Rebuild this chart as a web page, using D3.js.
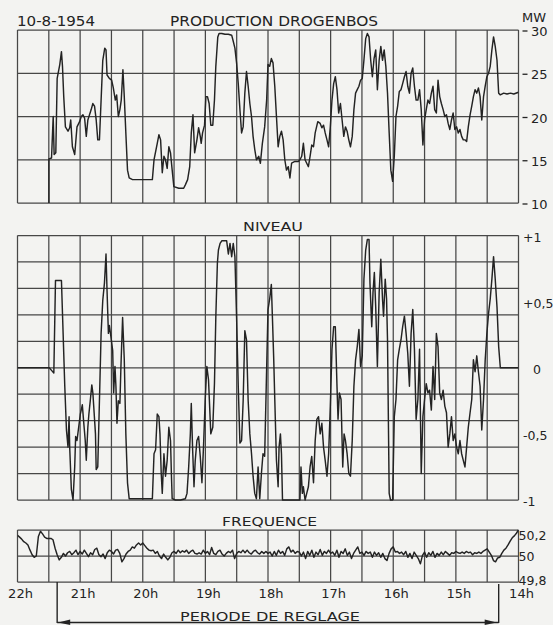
<!DOCTYPE html>
<html><head><meta charset="utf-8">
<script src="https://cdn.jsdelivr.net/npm/d3@7"></script>
<style>html,body{margin:0;padding:0;background:#f3f3f1;}svg{display:block;}</style>
</head><body>
<script>
// ---- DATA (time in minutes from the 22h mark, moving right toward 14h) ----
const hourLabels = ["22h","21h","20h","19h","18h","17h","16h","15h","14h"];
const hourTicks = [0,60,120,180,240,300,360,420,480];
const productionTicks = [30,25,20,15,10];
const niveauTicks = [1,0.5,0,-0.5,-1];
const niveauTickLabels = ["+1","+0,5","0","-0,5","-1"];
const freqTicks = [50.2,50,49.8];
const freqTickLabels = ["50,2","50","49,8"];
const reglagePeriod = [38, 461];

const production = [[30.1,10],[30.1,15.1],[32.6,15.2],[34.2,20],[35.1,15.6],[36.7,15.8],[38,24.4],[40.5,26],[42.1,27.5],[43.1,25.8],[44.3,22.3],[45.9,18.8],[48.4,18.3],[50,18.7],[51,19.6],[52.6,16.5],[54.8,15.6],[57,18.8],[59.5,19.4],[61.1,20],[62.7,20.2],[64.3,19.8],[65.9,17.7],[67.4,19.6],[69,20.2],[70.6,20.8],[72.2,21.5],[73.8,21.2],[75.4,19.6],[76.9,17.3],[78.5,17.3],[80.1,21.9],[81.7,26.5],[83.6,27.9],[84.8,27.7],[85.8,24.8],[88,24.4],[90.2,24.2],[91.8,23.3],[93.7,21.9],[95,22.5],[96.6,20],[98.1,20.8],[99.4,21.9],[101,25.4],[102.3,22.3],[103.8,18.1],[105.4,13.8],[107,12.9],[110.2,12.7],[116.5,12.7],[122.8,12.7],[129.2,12.7],[130.8,15],[133.9,16.9],[135.5,17.9],[137.1,17.3],[138.7,13.5],[140.3,15.4],[141.8,15],[143.4,14],[145,16.5],[146.6,15.8],[148.2,13.8],[149.8,11.9],[154.5,11.7],[159.2,11.7],[160.8,12.1],[163,12.7],[165,14.2],[166.5,18.1],[168.1,20.2],[169.7,15.8],[171.9,17.3],[173.5,18.7],[175.1,17.7],[176,16.9],[177.3,18.1],[179.2,19],[180.5,22.3],[182,22.3],[183.6,21.5],[185.2,19],[187.1,19],[188.7,21.9],[190,25.8],[191.9,29.2],[193.1,29.6],[195.7,29.6],[198.8,29.5],[202,29.5],[205.2,29.4],[206.7,28.7],[208.3,27.9],[209.9,26.2],[211.5,23.8],[213.1,20.8],[214.7,18.1],[216.2,18.8],[217.8,22.7],[219.4,25.2],[221,23.5],[222.6,21.5],[224.2,20],[225.7,17.7],[227.3,16.2],[228.9,15],[231.1,15.4],[232.7,14.6],[234.6,16.9],[236.8,18.8],[238.7,21.9],
[240,26],[241.6,25.8],[243.2,26.7],[244.8,26.2],[246.5,23.5],[248.1,20],[249.7,16.5],[251.3,17.7],[252.9,18.3],[254.5,17.3],[256.1,15],[257.7,13.8],[259.4,14.2],[261,12.9],[262.6,14.6],[265.8,14.8],[269,14.8],[270.6,15],[272.3,15.4],[273.9,16.9],[275.5,15],[277.1,14.6],[278.7,14.2],[280.3,15.4],[281.9,16.7],[283.6,16.5],[285.2,18.1],[287.7,19.4],[290,19.2],[291.6,18.7],[293.2,19],[294.8,18.1],[296.5,17.3],[298.1,16.5],[299.7,18.8],[301.3,21.9],[302.9,23.8],[304.5,24.6],[306.1,23.1],[307.7,20.4],[309.4,21.5],[311,19.6],[312.6,17.7],[314.2,18.8],[315.8,18.3],[317.4,17.3],[319,16.5],[320.7,17.7],[322.3,20.8],[323.9,22.7],[325.5,23.1],[327.1,23.5],[328.7,24.2],[330.3,24.4],[331.9,26.5],[333.6,29],[335.2,29.6],[336.8,29.2],[338.4,26.5],[340,24.6],[341.6,26.7],[343.2,27.7],[344.8,23.1],[346.5,26.5],[348.1,28.1],[349.7,26.5],[351.3,27.7],[352.9,25.8],[354.5,22.7],[356.1,18.1],[357.7,13.8],[359.4,12.5],[361,15.4],[362.6,20],[364.2,21.2],[365.8,22.9],[367.4,23.1],[369,23.8],[370.7,24.6],[372.3,25.2],[373.9,23.5],[375.5,22.7],[377.1,25],[378.7,25.6],[380.3,23.5],[381.9,21.9],[383.6,21.9],[385.2,23.1],[386.8,20.8],[388.4,16.7],[390,19.6],[391.6,20.8],[393.2,21.9],[394.8,21.5],[396.5,22.7],[398.1,23.5],[399.7,20.8],[401.3,20.4],[402.9,24.2],[404.5,22.3],[406.1,21.5],[407.8,20.8],[409.4,20],[411,20.2],[412.6,19.2],[414.2,18.5],[415.8,19.6],[417.4,20.4],[419,18.5],[420.7,18.8],[422.3,18.1],[423.9,18.5],[425.5,17.7],[427.1,17.3],[428.7,17.3],[430.3,17.1],[431.9,18.8],[433.6,20.2],[435.2,21.2],[436.8,22.3],[438.4,23.1],[440,22.7],[441.6,23.3],[443.2,22.3],[444.8,19.6],[446.5,22.3],[448.1,23.5],[449.7,24.6],[451.3,25],[452.9,25.8],[454.5,27.7],[456.1,29.2],[457.7,28.1],[459.4,26.5],[461,22.7],[462.6,22.5],[465.8,22.7],[469,22.6],[472.3,22.7],[475.5,22.6],[480,22.8]];

const niveau = [[0,0],[30.4,0],[32.6,-0.02],[34.8,-0.04],[36.4,0.66],[42.1,0.66],[43.7,0.26],[45.3,-0.14],[46.9,-0.47],[48.4,-0.6],[49.4,-0.37],[50,-0.6],[51.6,-0.92],[53.2,-1],[54.8,-0.75],[55.7,-0.52],[57,-0.55],[58.6,-0.45],[60.2,-0.35],[62.1,-0.28],[63.3,-0.4],[64.9,-0.55],[65.9,-0.7],[67.4,-0.45],[68.4,-0.35],[69.7,-0.25],[71.2,-0.13],[72.2,-0.19],[73.1,-0.3],[74.7,-0.5],[75.4,-0.77],[76.9,-0.75],[78.5,-0.25],[80.1,0.26],[81.7,0.51],[83.3,0.64],[84.8,0.86],[85.8,0.58],[87.1,0.26],[88,0.32],[89.6,0.23],[91.2,0.13],[92.1,-0.19],[93.4,0.01],[94.3,-0.14],[95.3,-0.42],[96.6,-0.25],[98.1,-0.27],[99.1,0.01],[100.7,0.38],[102.3,0.06],[103.8,-0.5],[105.4,-0.87],[107,-0.99],[129.2,-0.99],[130.8,-0.65],[132.3,-0.62],[133.9,-0.35],[135.5,-0.37],[136.5,-0.5],[137.7,-0.8],[138.7,-0.95],[140.3,-0.65],[141.8,-0.82],[143.4,-0.7],[145,-0.45],[146.6,-0.55],[147.5,-0.82],[148.2,-0.99],[151.3,-1],[156.1,-1],[160.8,-0.99],[162.4,-0.95],[164,-0.75],[165.6,-0.5],[166.5,-0.27],[167.8,-0.62],[169.1,-0.9],[170.3,-0.7],[171.9,-0.55],[173.5,-0.52],[175.1,-0.67],[176.7,-0.87],[178.2,-0.6],[179.8,-0.25],[181.4,0.01],[183,-0.09],[185.2,-0.5],[187.1,-0.45],[188.7,-0.12],[190,0.38],[191.5,0.79],[192.5,0.89],[194.1,0.94],[195.7,0.96],[200.4,0.96],[202,0.86],[203.6,0.94],[205.2,0.84],[206.7,0.94],[208.3,0.84],[209.9,0.38],[211.5,-0.14],[213.1,-0.57],[214.7,-0.55],[216.2,-0.25],[217.8,0.28],[219.4,0.21],[221,-0.25],[222.6,-0.5],[224.2,-0.65],[225.7,-0.82],[227.3,-0.95],[228.9,-0.99],[230.5,-0.75],[232.1,-0.99],[233.7,-0.8],[235.2,-0.65],[236.8,-0.67],[238.4,-0.11],
[240,0.44],[241.6,0.52],[243.2,0.63],[244.2,0.39],[245.5,0.06],[246.5,-0.24],[248.1,-0.7],[249.7,-0.9],[250.6,-0.6],[251.9,-0.5],[252.9,-0.65],[253.9,-1],[270.6,-1],[271.6,-0.75],[272.9,-0.95],[273.9,-0.9],[275.5,-1],[277.1,-0.95],[278.7,-0.9],[280.3,-0.75],[281.9,-0.67],[283.6,-0.87],[285.2,-0.55],[286.8,-0.39],[288.4,-0.37],[290,-0.5],[291.6,-0.42],[293.2,-0.6],[294.8,-0.7],[296.5,-0.82],[298.1,-0.65],[299.7,-0.29],[301.3,0.14],[302.9,0.31],[304.5,0.31],[306.1,-0.14],[307.1,-0.39],[308.4,-0.19],[310,-0.24],[311.6,-0.75],[312.9,-0.5],[314.2,-0.55],[315.8,-0.65],[317.4,-0.8],[319,-0.82],[320.7,-0.55],[322.3,-0.14],[323.9,0.06],[325.5,0.16],[327.1,0.29],[328.7,0.01],[330.3,0.09],[331.9,0.67],[333.6,0.89],[335.2,0.97],[336.8,0.97],[337.7,0.64],[339.4,0.31],[340.6,0.57],[341.9,0.72],[343.2,0.46],[344.8,0.01],[346.5,0.57],[348.1,0.82],[349.7,0.52],[350.7,0.39],[352.3,0.67],[353.6,0.52],[354.5,0.21],[356.1,-0.95],[357.4,-1],[359.4,-1],[361,-0.37],[362.6,-0.24],[364.2,0.06],[365.8,0.14],[367.4,0.21],[369,0.31],[370.7,0.39],[372.3,0.26],[373.9,0.11],[375.5,-0.14],[377.1,0.26],[378.7,0.44],[380.3,0.14],[381.9,-0.39],[383.6,-0.24],[385.2,0.14],[386.8,-0.8],[388.4,-0.37],[390,-0.24],[391.6,-0.12],[393.2,-0.19],[394.8,-0.17],[396.5,-0.32],[398.1,0.01],[399.7,-0.24],[401.3,0.26],[402.9,0.16],[404.5,-0.19],[406.1,-0.24],[407.8,-0.17],[409.4,-0.29],[411,-0.34],[412.6,-0.6],[414.2,-0.5],[415.8,-0.37],[417.4,-0.55],[419,-0.5],[420.7,-0.6],[422.3,-0.65],[423.9,-0.55],[425.5,-0.65],[427.1,-0.7],[428.7,-0.75],[430.3,-0.6],[431.9,-0.45],[433.6,-0.34],[435.2,-0.24],[436.8,0.06],[438.4,-0.03],[440,0.09],[441.6,-0.03],[443.2,-0.14],[444.8,-0.47],[446.5,-0.24],[448.1,0.06],[449.7,0.26],[451.3,0.41],[452.9,0.52],[454.5,0.67],[456.1,0.84],[457.7,0.67],[459.4,0.46],[461,0.16],[462.6,0],[480,0]];

// frequency, sampled every 2 minutes from the 22h mark
const freqStepMin = 2;
const frequence = [50.16,50.145,50.13,50.11,50.10,50.085,50.045,50.01,49.99,50.0,
50.15,50.19,50.17,50.145,50.135,50.135,50.135,50.125,50.06,50.01,
49.97,49.99,50.02,50.0,50.025,50.035,50.01,50.025,50.045,50.01,
50.035,50.015,50.045,50.02,49.995,50.025,50.01,50.05,50.06,50.01,
49.995,50.015,49.98,50.025,50.045,50.035,50.015,50.045,50.05,50.02,
49.955,49.98,50.015,50.035,50.045,50.07,50.06,50.085,50.10,50.085,
50.10,50.08,50.06,50.045,50.04,50.045,50.02,50.035,50.0,49.98,
50.015,49.99,49.97,49.99,50.025,50.035,50.02,50.045,50.025,50.04,
50.03,50.045,50.02,50.035,50.045,50.02,50.015,50.025,50.015,50.045,
50.02,50.035,50.01,50.065,50.02,50.01,50.035,50.045,50.015,50.0,
50.02,50.035,50.025,50.045,49.98,50.02,50.035,50.025,50.045,50.025,
50.045,50.025,50.015,50.035,50.045,50.025,50.015,50.035,50.02,50.035,
50.02,50.03,50.0,50.035,50.005,50.045,50.02,50.035,50.005,50.055,
50.07,50.03,50.045,50.02,50.035,50.03,50.0,50.03,49.98,50.035,
50.005,50.045,49.99,50.03,50.01,50.05,50.005,50.035,50.02,50.045,
50.02,50.03,50.005,50.045,49.99,50.035,50.02,50.055,50.005,50.03,
49.98,50.02,50.045,50.07,50.02,50.03,50.005,50.035,50.02,50.03,
49.99,50.03,50.005,50.025,49.99,50.02,49.98,49.965,50.02,50.055,
50.07,50.03,50.035,50.02,50.03,50.01,50.035,49.99,50.02,49.98,
50.03,50.005,49.98,49.94,50.005,50.03,49.99,50.025,50.005,50.035,
49.99,50.02,50.005,50.03,50.01,50.035,50.02,50.005,50.025,50.02,
50.035,50.025,50.02,50.03,50.02,50.035,50.025,50.03,50.01,50.025,
50.02,50.03,50.02,50.035,50.045,50.055,50.03,50.005,49.965,49.955,
49.985,49.99,50.02,50.045,50.06,50.085,50.115,50.14,50.155,50.175,
50.2];

// ---- DRAWING ----
const W = 553, H = 625;
const ink = "#232323", gridC = "#474747";
const font = "'DejaVu Sans', sans-serif";
const svg = d3.select("body").append("svg").attr("width", W).attr("height", H);
svg.append("rect").attr("width", W).attr("height", H).attr("fill", "#f3f3f1");

const x = d3.scaleLinear().domain([0, 480]).range([17.5, 518.5]);
const yP = d3.scaleLinear().domain([10, 30]).range([203, 30]);
const yN = d3.scaleLinear().domain([-1, 1]).range([500, 235.5]);
const yF = d3.scaleLinear().domain([49.8, 50.2]).range([582, 530]);

function grid(y, hVals, id) {
  const g = svg.append("g");
  const [y0, y1] = y.range();
  d3.range(0, 481, 30).forEach(t => {
    g.append("line").attr("x1", x(t)).attr("x2", x(t)).attr("y1", y0).attr("y2", y1)
      .attr("stroke", gridC).attr("stroke-width", 1.25);
  });
  hVals.forEach(v => {
    g.append("line").attr("x1", x(0)).attr("x2", x(480)).attr("y1", y(v)).attr("y2", y(v))
      .attr("stroke", gridC).attr("stroke-width", 1.25);
  });
  svg.append("clipPath").attr("id", id).append("rect")
    .attr("x", x(0)).attr("y", y1 - 1).attr("width", x(480) - x(0)).attr("height", y0 - y1 + 2);
}
grid(yP, d3.range(10, 30.01, 5), "cP");
grid(yN, d3.range(-1, 1.001, 0.2), "cN");
grid(yF, [49.8, 50, 50.2], "cF");

const lineStyle = sel => sel.attr("fill", "none").attr("stroke", ink).attr("stroke-width", 1.45).attr("stroke-linejoin", "round");
svg.append("path").datum(production).attr("clip-path", "url(#cP)")
  .attr("d", d3.line().x(d => x(d[0])).y(d => yP(d[1]))).call(lineStyle);
svg.append("path").datum(niveau).attr("clip-path", "url(#cN)")
  .attr("d", d3.line().x(d => x(d[0])).y(d => yN(d[1]))).call(lineStyle);
svg.append("path").datum(frequence).attr("clip-path", "url(#cF)")
  .attr("d", d3.line().x((d, i) => x(i * freqStepMin)).y(d => yF(d))).call(lineStyle);

function txt(s, xx, yy, size, opts = {}) {
  const t = svg.append("text").attr("x", xx).attr("y", yy).text(s)
    .attr("font-family", font).attr("font-size", size).attr("fill", ink)
    .attr("text-anchor", opts.anchor || "start");
  if (opts.len) t.attr("textLength", opts.len).attr("lengthAdjust", "spacingAndGlyphs");
  return t;
}
// titles
txt("10-8-1954", 17, 26, 14, {len: 78});
txt("PRODUCTION DROGENBOS", 170, 26, 13.5, {len: 208});
txt("MW", 522, 22, 11.5, {len: 24});
txt("NIVEAU", 243, 231, 12.5, {len: 60});
txt("FREQUENCE", 222, 526, 12.5, {len: 95});
txt("PERIODE DE REGLAGE", 180, 620.5, 13, {len: 180});

// right-hand scales
productionTicks.forEach(v => {
  svg.append("line").attr("x1", 522.5).attr("x2", 527.5).attr("y1", yP(v) + 1).attr("y2", yP(v) + 1)
    .attr("stroke", ink).attr("stroke-width", 1.3);
  txt(String(v), 531, yP(v) + 6, 13);
});
niveauTicks.forEach((v, i) => {
  txt(niveauTickLabels[i], v === 0 ? 533 : 523, yN(v) + 6, 12.5);
});
const freqLabelY = [535.5 + 4.5, 557 + 4.5, 580 + 4.5];
freqTicks.forEach((v, i) => txt(freqTickLabels[i], 518.5, yF(v) + (i === 0 ? 10 : i === 1 ? 5 : 2.5), 12.5));

// time axis labels
hourTicks.forEach((t, i) => txt(hourLabels[i], x(t) + 3, 598, 13, {anchor: "middle"}));

// reglage bracket
const [r0, r1] = reglagePeriod;
const br = svg.append("g").attr("stroke", ink).attr("stroke-width", 1.4).attr("fill", "none");
br.append("line").attr("x1", x(r0)).attr("x2", x(r0)).attr("y1", 582).attr("y2", 623);
br.append("line").attr("x1", x(r1)).attr("x2", x(r1)).attr("y1", 584).attr("y2", 623);
br.append("line").attr("x1", x(r0)).attr("x2", x(r1)).attr("y1", 622.5).attr("y2", 622.5);
svg.append("path").attr("fill", ink)
  .attr("d", `M${x(r0) + 1},622.5 L${x(r0) + 13},619.5 L${x(r0) + 13},625 Z`);
svg.append("path").attr("fill", ink)
  .attr("d", `M${x(r1) - 2},622.5 L${x(r1) - 14},619.5 L${x(r1) - 14},625 Z`);
</script>
</body></html>
